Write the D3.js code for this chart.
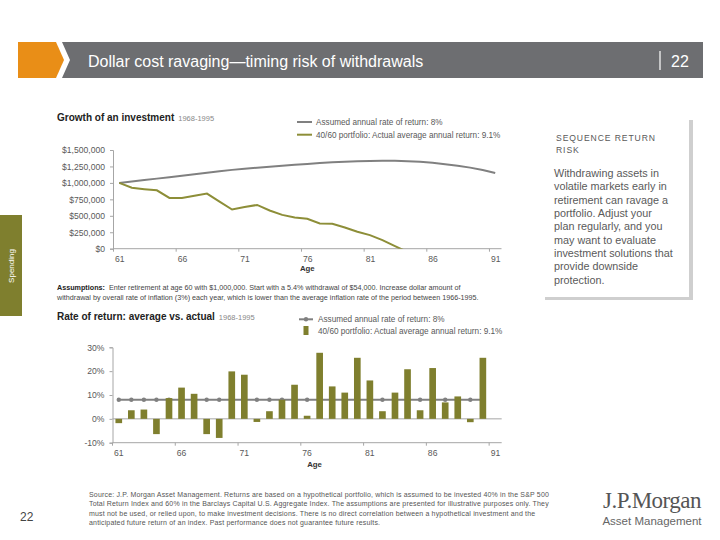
<!DOCTYPE html>
<html>
<head>
<meta charset="utf-8">
<script src="https://cdn.jsdelivr.net/npm/d3@7"></script>
<style>
  html, body { margin: 0; padding: 0; background: #fff; }
  svg { display: block; font-family: "Liberation Sans", Arial, sans-serif; }
</style>
</head>
<body>
<svg id="chart" width="720" height="540"></svg>
<script>
// ---------------- DATA ----------------
const ages = [61,62,63,64,65,66,67,68,69,70,71,72,73,74,75,76,77,78,79,80,81,82,83,84,85,86,87,88,89,90,91];
const tickAges = [61,66,71,76,81,86,91];

// Growth of an investment (balance in $)
const assumedBalance = [1000000,1022000,1044000,1065000,1087000,1108000,1130000,1155000,1178000,1198000,
  1215000,1232000,1247000,1260000,1275000,1289000,1302000,1313000,1322000,1329000,
  1334000,1336000,1335000,1330000,1320000,1305000,1285000,1262000,1232000,1195000,1149000];
const portfolioBalance = [1000000,927000,905000,887000,771000,771000,806000,837000,715000,595000,
  635000,665000,580000,514000,474000,454000,383000,378000,323000,257000,
  207000,131000,40000,-50000];

// Rate of return (ages 61-90)
const assumedReturn = [0.08,0.08,0.08,0.08,0.08,0.08,0.08,0.08,0.08,0.08,
  0.08,0.08,0.08,0.08,0.08,0.08,0.08,0.08,0.08,0.08,
  0.08,0.08,0.08,0.08,0.08,0.08,0.08,0.08,0.08,0.08];
const actualReturn = [-0.018,0.036,0.039,-0.064,0.087,0.131,0.105,-0.064,-0.080,0.199,
  0.185,-0.013,0.032,0.080,0.143,0.013,0.277,0.136,0.110,0.256,
  0.161,0.032,0.110,0.208,0.036,0.213,0.069,0.094,-0.014,0.256];

const balanceTicks = [0,250000,500000,750000,1000000,1250000,1500000];
const returnTicks = [-0.1,0,0.1,0.2,0.3];

const titleText = "Dollar cost ravaging\u2014timing risk of withdrawals";
const pageNumber = "22";
const sideTab = "Spending";
const chart1Title = "Growth of an investment";
const chart2Title = "Rate of return: average vs. actual";
const periodText = "1968-1995";
const legendAssumed = "Assumed annual rate of return: 8%";
const legendActual = "40/60 portfolio: Actual average annual return: 9.1%";
const assumptionsLines = [
  ["Assumptions:", "  Enter retirement at age 60 with $1,000,000. Start with a 5.4% withdrawal of $54,000. Increase dollar amount of"],
  ["", "withdrawal by overall rate of inflation (3%) each year, which is lower than the average inflation rate of the period between 1966-1995."]
];
const boxHeading = ["SEQUENCE RETURN", "RISK"];
const boxBody = ["Withdrawing assets in","volatile markets early in","retirement can ravage a","portfolio. Adjust your",
  "plan regularly, and you","may want to evaluate","investment solutions that","provide downside","protection."];
const sourceLines = [
  "Source: J.P. Morgan Asset Management. Returns are based on a hypothetical portfolio, which is assumed to be invested 40% in the S&P 500",
  "Total Return Index and 60% in the Barclays Capital U.S. Aggregate Index. The assumptions are presented for illustrative purposes only. They",
  "must not be used, or relied upon, to make investment decisions. There is no direct correlation between a hypothetical investment and the",
  "anticipated future return of an index. Past performance does not guarantee future results."
];

// ---------------- STYLE ----------------
const ORANGE = "#e98e17", HEADER_GRAY = "#6d6e71", OLIVE = "#7f7f2e", LINE_OLIVE = "#8d8e38";
const GRAY_LINE = "#808080", AXIS = "#a6a6a6", TXT = "#595959";

const svg = d3.select("#chart");

// ---------------- HEADER ----------------
svg.append("polygon").attr("fill", ORANGE)
  .attr("points", [[18,42],[56,42],[64,60],[56,78],[18,78]].join(" "));
svg.append("polygon").attr("fill", HEADER_GRAY)
  .attr("points", [[62,42],[703,42],[703,78],[62,78],[70,60]].join(" "));
svg.append("text").attr("x", 88).attr("y", 67).attr("fill", "#fff")
  .attr("font-size", 16).text(titleText);
svg.append("line").attr("x1", 660).attr("x2", 660).attr("y1", 51).attr("y2", 70)
  .attr("stroke", "#fff").attr("stroke-width", 1.2);
svg.append("text").attr("x", 671).attr("y", 67).attr("fill", "#fff")
  .attr("font-size", 16).text(pageNumber);

// ---------------- SIDE TAB ----------------
svg.append("rect").attr("x", 0).attr("y", 215).attr("width", 22).attr("height", 101).attr("fill", OLIVE);
svg.append("text").attr("transform", "translate(14,266) rotate(-90)")
  .attr("text-anchor", "middle").attr("fill", "#fff").attr("font-size", 8).text(sideTab);

// ---------------- RIGHT BOX ----------------
svg.append("rect").attr("x", 689).attr("y", 120).attr("width", 4).attr("height", 180).attr("fill", "#cfcfcf");
svg.append("rect").attr("x", 545).attr("y", 297).attr("width", 148).attr("height", 3).attr("fill", "#cfcfcf");
boxHeading.forEach((t, i) => {
  svg.append("text").attr("x", 556).attr("y", 140.5 + i * 12.5).attr("fill", TXT)
    .attr("font-size", 8.6).attr("letter-spacing", 0.9).text(t);
});
boxBody.forEach((t, i) => {
  svg.append("text").attr("x", 554).attr("y", 177 + i * 13.35).attr("fill", "#5a5a5a")
    .attr("font-size", 10.8).text(t);
});

// ---------------- CHART 1: GROWTH ----------------
const c1 = { left: 113, right: 501.5, top: 150, bottom: 248.7 };
const x1 = d3.scalePoint().domain(ages).range([c1.left, c1.right]).padding(0.5);
const y1 = d3.scaleLinear().domain([0, 1500000]).range([c1.bottom, c1.top]);
const step1 = x1.step();

const t1 = svg.append("text").attr("x", 57).attr("y", 121).attr("font-size", 10)
  .attr("font-weight", "bold").attr("fill", "#222");
t1.append("tspan").text(chart1Title);
t1.append("tspan").attr("font-weight", "normal").attr("font-size", 7.5).attr("fill", "#888").attr("dx", 4).text(periodText);

// legend
const lg1 = svg.append("g").attr("font-size", 8.2).attr("fill", TXT);
lg1.append("line").attr("x1", 297).attr("x2", 312).attr("y1", 122).attr("y2", 122).attr("stroke", GRAY_LINE).attr("stroke-width", 2);
lg1.append("text").attr("x", 316).attr("y", 125).text(legendAssumed);
lg1.append("line").attr("x1", 297).attr("x2", 312).attr("y1", 134.7).attr("y2", 134.7).attr("stroke", LINE_OLIVE).attr("stroke-width", 2);
lg1.append("text").attr("x", 316).attr("y", 137.7).text(legendActual);

// y axis
const yAx1 = svg.append("g").attr("transform", `translate(${c1.left},0)`)
  .call(d3.axisLeft(y1).tickValues(balanceTicks).tickSize(3).tickPadding(5).tickFormat(d3.format("$,.0f")));
// x axis line
const xAx1 = svg.append("g").attr("transform", `translate(0,${c1.bottom})`)
  .call(d3.axisBottom(x1).tickValues(tickAges).tickSize(0).tickPadding(7.5));
xAx1.selectAll(".tick").append("line").attr("x1", -step1 / 2).attr("x2", -step1 / 2).attr("y1", 0).attr("y2", 3);
[yAx1, xAx1].forEach(a => {
  a.select(".domain").attr("stroke", AXIS);
  a.selectAll(".tick line").attr("stroke", AXIS);
  a.selectAll("text").attr("fill", TXT).attr("font-size", 8.6).attr("font-family", null);
});
xAx1.select(".domain").attr("d", `M${c1.left},0H${c1.right}`);
svg.append("text").attr("x", (c1.left + c1.right) / 2).attr("y", 271).attr("text-anchor", "middle")
  .attr("font-size", 7.8).attr("font-weight", "bold").attr("fill", "#333").text("Age");

// clip
svg.append("clipPath").attr("id", "clip1").append("rect")
  .attr("x", c1.left).attr("y", c1.top - 20).attr("width", c1.right - c1.left).attr("height", c1.bottom - c1.top + 20);

const line1 = d3.line().x((d, i) => x1(ages[i])).y(d => y1(d));
const plot1 = svg.append("g").attr("clip-path", "url(#clip1)");
plot1.append("path").datum(assumedBalance).attr("d", line1).attr("fill", "none")
  .attr("stroke", GRAY_LINE).attr("stroke-width", 2);
plot1.append("path").datum(portfolioBalance).attr("d", line1).attr("fill", "none")
  .attr("stroke", LINE_OLIVE).attr("stroke-width", 2);

// assumptions text
assumptionsLines.forEach((ln, i) => {
  const t = svg.append("text").attr("x", 57).attr("y", 289.5 + i * 10.5).attr("font-size", 7.2).attr("fill", "#444")
    .attr("xml:space", "preserve");
  if (ln[0]) t.append("tspan").attr("font-weight", "bold").attr("fill", "#222").text(ln[0]);
  t.append("tspan").text(ln[1]);
});

// ---------------- CHART 2: RATE OF RETURN ----------------
const c2 = { left: 112.5, right: 501.7, top: 347.3, bottom: 442.7 };
const x2 = d3.scaleBand().domain(ages).range([c2.left, c2.right]).paddingInner(0.47).paddingOuter(0.235);
const y2 = d3.scaleLinear().domain([-0.1, 0.3]).range([c2.bottom, c2.top]);
const step2 = x2.step();
const cx2 = a => x2(a) + x2.bandwidth() / 2;

const t2 = svg.append("text").attr("x", 57).attr("y", 320).attr("font-size", 10)
  .attr("font-weight", "bold").attr("fill", "#222");
t2.append("tspan").text(chart2Title);
t2.append("tspan").attr("font-weight", "normal").attr("font-size", 7.5).attr("fill", "#888").attr("dx", 4).text(periodText);

// legend
const lg2 = svg.append("g").attr("font-size", 8.2).attr("fill", TXT);
lg2.append("line").attr("x1", 299).attr("x2", 313).attr("y1", 319.3).attr("y2", 319.3).attr("stroke", GRAY_LINE).attr("stroke-width", 2);
lg2.append("circle").attr("cx", 306).attr("cy", 319.3).attr("r", 2.2).attr("fill", GRAY_LINE);
lg2.append("text").attr("x", 318).attr("y", 322.2).text(legendAssumed);
lg2.append("rect").attr("x", 303.5).attr("y", 326).attr("width", 5).attr("height", 9).attr("fill", OLIVE);
lg2.append("text").attr("x", 318).attr("y", 333.7).text(legendActual);

const pctFmt = d3.format(".0%");
const yAx2 = svg.append("g").attr("transform", `translate(${c2.left},0)`)
  .call(d3.axisLeft(y2).tickValues(returnTicks).tickSize(3).tickPadding(5)
    .tickFormat(d => pctFmt(d).replace("\u2212", "-")));
const xAx2 = svg.append("g").attr("transform", `translate(0,${c2.bottom})`)
  .call(d3.axisBottom(x2).tickValues(tickAges).tickSize(0).tickPadding(7.5));
xAx2.selectAll(".tick").append("line").attr("x1", -step2 / 2).attr("x2", -step2 / 2).attr("y1", 0).attr("y2", 3);
[yAx2, xAx2].forEach(a => {
  a.select(".domain").attr("stroke", AXIS);
  a.selectAll(".tick line").attr("stroke", AXIS);
  a.selectAll("text").attr("fill", TXT).attr("font-size", 8.6).attr("font-family", null);
});
xAx2.select(".domain").attr("d", `M${c2.left},0H${c2.right}`);
// zero line
svg.append("line").attr("x1", c2.left).attr("x2", c2.right).attr("y1", y2(0)).attr("y2", y2(0))
  .attr("stroke", AXIS).attr("stroke-width", 1);
svg.append("text").attr("x", 314.5).attr("y", 467).attr("text-anchor", "middle")
  .attr("font-size", 7.8).attr("font-weight", "bold").attr("fill", "#333").text("Age");

// assumed line + markers
const retAges = ages.slice(0, actualReturn.length);
const line2 = d3.line().x((d, i) => cx2(retAges[i])).y(d => y2(d));
svg.append("path").datum(assumedReturn).attr("d", line2).attr("fill", "none")
  .attr("stroke", GRAY_LINE).attr("stroke-width", 2);
svg.append("g").selectAll("circle").data(assumedReturn).join("circle")
  .attr("cx", (d, i) => cx2(retAges[i])).attr("cy", d => y2(d)).attr("r", 2.2).attr("fill", GRAY_LINE);

// bars
svg.append("g").selectAll("rect").data(actualReturn).join("rect")
  .attr("x", (d, i) => x2(retAges[i])).attr("width", x2.bandwidth())
  .attr("y", d => y2(Math.max(0, d))).attr("height", d => Math.abs(y2(d) - y2(0)))
  .attr("fill", OLIVE);

// ---------------- FOOTER ----------------
svg.append("text").attr("x", 20).attr("y", 521).attr("font-size", 12).attr("fill", "#444").text(pageNumber);
sourceLines.forEach((t, i) => {
  svg.append("text").attr("x", 89).attr("y", 497 + i * 9.3).attr("font-size", 7).attr("fill", "#555")
    .attr("letter-spacing", 0.17).text(t);
});
svg.append("text").attr("x", 652).attr("y", 508).attr("text-anchor", "middle")
  .attr("font-family", "'Liberation Serif', 'DejaVu Serif', serif").attr("font-size", 23).attr("fill", "#555")
  .attr("letter-spacing", -0.5).text("J.P.Morgan");
svg.append("text").attr("x", 652).attr("y", 525).attr("text-anchor", "middle")
  .attr("font-size", 11.5).attr("fill", "#666").text("Asset Management");
</script>
</body>
</html>
